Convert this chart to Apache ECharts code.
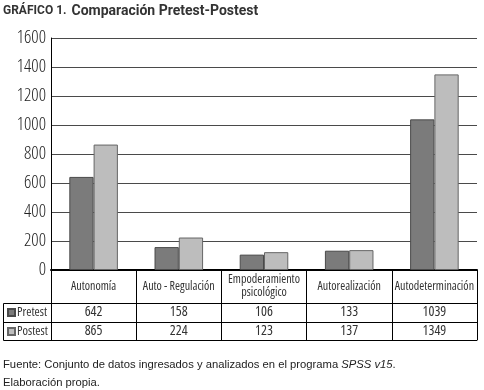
<!DOCTYPE html>
<html><head><meta charset="utf-8">
<script src="https://cdn.jsdelivr.net/npm/echarts@6/dist/echarts.min.js"></script>
<style>html,body{margin:0;padding:0;background:#fff}#c{width:484px;height:390px}</style>
</head><body><div id="c"></div>
<script>
// ---- data ----
const categories = ['Autonomía', 'Auto - Regulación', 'Empoderamiento\npsicológico', 'Autorealización', 'Autodeterminación'];
const seriesNames = ['Pretest', 'Postest'];
const pretest = [642, 158, 106, 133, 1039];
const postest = [865, 224, 123, 137, 1349];
const yMin = 0, yMax = 1600, yStep = 200;
const titleLead = 'GRÁFICO 1.';
const titleMain = 'Comparación Pretest-Postest';
const footerA = 'Fuente: Conjunto de datos ingresados y analizados en el programa ';
const footerB = 'SPSS v15';
const footerC = '.';
const footer2 = 'Elaboración propia.';

// ---- layout ----
const H = 390;
const GRID_LEFT = 51, GRID_RIGHT = 7, GRID_TOP = 38, AXIS_Y = 270;
const ROW1 = 303, ROW2 = 322, ROW3 = 340, TABLE_LEFT = 3;
const condFam = '"Open Sans", sans-serif';
const colors = { pre: '#7b7b7b', preBorder: '#4a4a4a', post: '#bdbdbd', postBorder: '#666666' };
const footFont = { fontFamily: '"Liberation Sans", sans-serif', fontSize: 11.25 };

const chart = echarts.init(document.getElementById('c'), null, { renderer: 'canvas' });
const option = {
  animation: false,
  backgroundColor: '#fff',
  title: {
    left: 3, top: 2, padding: 0,
    text: '{a|' + titleLead + '} {b|' + titleMain + '}',
    textStyle: {
      rich: {
        a: { fontFamily: 'Roboto, sans-serif', fontWeight: 'bold', fontSize: 12, color: '#333' },
        b: { fontFamily: 'Roboto, sans-serif', fontWeight: 'bold', fontSize: 14, color: '#333' }
      }
    }
  },
  legend: {
    orient: 'vertical', left: 7, top: ROW1, padding: 0, itemGap: 0,
    itemWidth: 7, itemHeight: 7, icon: 'rect',
    data: seriesNames,
    textStyle: { fontFamily: condFam, fontStyle: 'condensed', fontSize: 12.5, color: '#333', lineHeight: ROW2 - ROW1, padding: [0, 0, 0, -3] }
  },
  grid: { left: GRID_LEFT, right: GRID_RIGHT, top: GRID_TOP, bottom: H - AXIS_Y, containLabel: false },
  yAxis: {
    type: 'value', min: yMin, max: yMax, interval: yStep,
    axisLine: { show: true, lineStyle: { color: '#000', width: 1 } },
    axisTick: { show: false },
    axisLabel: { fontFamily: condFam, fontStyle: 'semi-condensed', fontWeight: 300, fontSize: 18, color: '#222', margin: 5,
      formatter: v => String(v) },
    splitLine: { lineStyle: { color: '#4a4a4a', width: 1 } }
  },
  xAxis: [
    {
      type: 'category', data: categories, position: 'bottom',
      axisLine: { lineStyle: { color: '#000', width: 2 } },
      axisTick: { show: true, interval: 0, length: ROW3 - AXIS_Y, lineStyle: { color: '#000', width: 1 } },
      axisLabel: { interval: 0, margin: (ROW1 - AXIS_Y) / 2, verticalAlign: 'middle', fontFamily: condFam, fontStyle: 'condensed',
        fontSize: 12, lineHeight: 13, color: '#333' }
    },
    {
      type: 'category', data: categories, position: 'bottom', offset: ROW1 - AXIS_Y,
      axisLine: { lineStyle: { color: '#000', width: 1 } },
      axisTick: { show: false },
      axisLabel: { interval: 0, margin: (ROW2 - ROW1) / 2, verticalAlign: 'middle', fontFamily: condFam, fontStyle: 'condensed',
        fontSize: 14, color: '#333', formatter: (v, i) => String(pretest[i]) }
    },
    {
      type: 'category', data: categories, position: 'bottom', offset: ROW2 - AXIS_Y,
      axisLine: { lineStyle: { color: '#000', width: 1 } },
      axisTick: { show: false },
      axisLabel: { interval: 0, margin: (ROW3 - ROW2) / 2, verticalAlign: 'middle', fontFamily: condFam, fontStyle: 'condensed',
        fontSize: 14, color: '#333', formatter: (v, i) => String(postest[i]) }
    },
    {
      type: 'category', data: categories, position: 'bottom', offset: ROW3 - AXIS_Y,
      axisLine: { lineStyle: { color: '#000', width: 1 } },
      axisTick: { show: false }, axisLabel: { show: false }
    }
  ],
  series: [
    { name: seriesNames[0], type: 'bar', xAxisIndex: 0, data: pretest, barGap: '0%', barCategoryGap: '43%',
      itemStyle: { color: colors.pre, borderColor: colors.preBorder, borderWidth: 1 } },
    { name: seriesNames[1], type: 'bar', xAxisIndex: 0, data: postest, barGap: '0%', barCategoryGap: '43%',
      itemStyle: { color: colors.post, borderColor: colors.postBorder, borderWidth: 1 } }
  ],
  graphic: [
    { type: 'rect', silent: true, shape: { x: TABLE_LEFT + 0.5, y: ROW1 + 0.5, width: GRID_LEFT - TABLE_LEFT, height: ROW3 - ROW1 },
      style: { fill: 'none', stroke: '#000', lineWidth: 1 } },
    { type: 'line', silent: true, shape: { x1: TABLE_LEFT, y1: ROW2 + 0.5, x2: GRID_LEFT, y2: ROW2 + 0.5 },
      style: { stroke: '#000', lineWidth: 1 } },
    { type: 'text', left: 3, top: 359, silent: true,
      style: { text: '{n|' + footerA + '}{i|' + footerB + '}{n|' + footerC + '}',
        rich: { n: Object.assign({ fill: '#222' }, footFont),
                i: Object.assign({ fill: '#222', fontStyle: 'italic' }, footFont) } } },
    { type: 'text', left: 3, top: 377, silent: true,
      style: Object.assign({ text: footer2, fill: '#222' }, footFont) }
  ]
};
chart.setOption(option);
</script>
</body></html>
